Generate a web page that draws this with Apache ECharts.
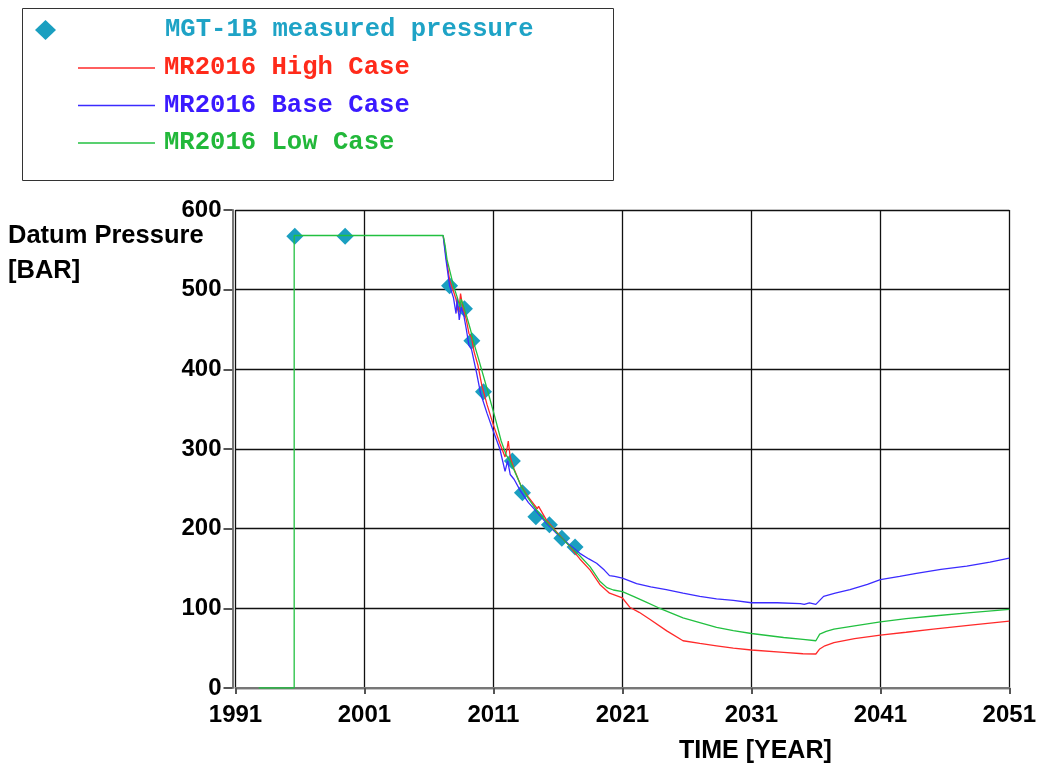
<!DOCTYPE html>
<html>
<head>
<meta charset="utf-8">
<script src="https://cdn.jsdelivr.net/npm/echarts@6/dist/echarts.min.js"></script>
<style>
html,body{margin:0;padding:0;background:#fff;}
#chart{width:1039px;height:769px;}
</style>
</head>
<body>
<div id="chart"></div>
<script>
// ---------- DATA ----------
const seriesNames = ['MGT-1B measured pressure', 'MR2016 High Case', 'MR2016 Base Case', 'MR2016 Low Case'];
const xTicks = [1991, 2001, 2011, 2021, 2031, 2041, 2051];
const yTicks = [0, 100, 200, 300, 400, 500, 600];

const measuredYears = [1995.6, 1999.5, 2007.6, 2008.75, 2009.33, 2010.23, 2012.47, 2013.25, 2014.29, 2015.34, 2016.3, 2017.33];
const measuredBar   = [567, 567, 505, 476, 436, 372, 285, 245, 215, 205, 188, 177];

// shared history (drawn with the low case, which lies on top in the reference)
const historyYears = [1992.8, 1995.55, 1995.55];
const historyBar   = [0, 0, 568];

const highYears = [2007.1, 2007.3, 2007.6, 2007.9, 2008.1, 2008.3, 2008.45, 2008.6, 2008.9, 2009.1, 2009.3, 2009.5, 2009.8, 2010.1, 2010.5, 2011.0, 2011.5, 2011.9, 2012.05, 2012.15, 2012.3, 2012.6, 2013.1, 2013.7, 2014.4, 2014.5, 2015.1, 2015.9, 2016.8, 2017.7, 2018.5, 2019.25, 2020.0, 2021.0, 2021.6, 2022.3, 2023.15, 2024.44, 2025.7, 2027.0, 2028.3, 2029.6, 2031.0, 2033.5, 2035.0, 2036.0, 2036.3, 2036.7, 2037.4, 2039.0, 2041.0, 2043.0, 2045.1, 2048.0, 2051.0];
const highBar   = [568, 545, 512, 498, 488, 470, 495, 480, 462, 445, 440, 422, 405, 380, 356, 330, 307, 290, 300, 310, 290, 275, 255, 240, 225, 228, 211, 196, 180, 162, 148, 130, 119, 113, 101, 95, 86, 71.7, 59.3, 56, 53, 50, 47.7, 44.8, 43, 42.7, 49, 53, 57, 62, 66.4, 70, 73.8, 79, 84];

const baseYears = [2007.1, 2007.3, 2007.6, 2007.9, 2008.1, 2008.2, 2008.35, 2008.5, 2008.7, 2008.9, 2009.1, 2009.3, 2009.5, 2009.7, 2010.0, 2010.5, 2011.0, 2011.5, 2011.9, 2012.1, 2012.3, 2012.6, 2013.07, 2013.7, 2014.36, 2015.1, 2015.9, 2016.8, 2017.7, 2018.4, 2019.0, 2019.6, 2020.0, 2020.4, 2021.0, 2022.1, 2023.2, 2024.4, 2025.7, 2027.0, 2028.3, 2029.6, 2031.0, 2033.0, 2034.8, 2035.1, 2035.5, 2036.0, 2036.3, 2036.6, 2037.5, 2038.65, 2040.0, 2041.0, 2042.5, 2043.8, 2045.7, 2047.7, 2049.5, 2051.0];
const baseBar   = [568, 540, 505, 490, 470, 490, 462, 478, 468, 450, 430, 425, 410, 395, 370, 345, 322, 300, 272, 285, 268, 262, 248, 233, 221, 207, 194, 181, 169, 162, 156.6, 148, 141, 140, 138, 131, 127, 123.5, 119, 115, 112, 110, 107, 107, 106, 105, 107, 105, 110, 115, 119, 123.5, 130, 136, 140, 144, 149, 153, 158, 163];

const lowYears = [2007.1, 2007.25, 2007.4, 2007.9, 2008.2, 2008.4, 2008.5, 2008.67, 2008.9, 2009.2, 2009.5, 2009.84, 2010.5, 2011.13, 2011.6, 2012.0, 2012.3, 2012.7, 2013.1, 2013.7, 2014.4, 2015.1, 2015.9, 2016.8, 2017.7, 2018.5, 2019.25, 2019.8, 2020.3, 2021.0, 2021.85, 2022.8, 2023.8, 2025.7, 2027.0, 2028.3, 2029.6, 2031.0, 2033.5, 2035.0, 2036.0, 2036.3, 2036.8, 2037.4, 2039.0, 2041.0, 2043.0, 2045.1, 2048.0, 2051.0];
const lowBar   = [568, 556, 538, 505, 490, 478, 488, 480, 468, 451, 432, 413.5, 376, 339, 310, 292, 285, 270, 255, 238, 222, 209, 195, 180, 166, 152, 134, 126, 123, 121, 115, 108, 100.7, 88, 82, 76, 72, 68.4, 63.4, 61, 59.3, 67.6, 71, 73.8, 78, 83, 87, 90.4, 94.5, 98.7];

// ---------- helpers ----------
function zip(xs, ys) { return xs.map((x, i) => [x, ys[i]]); }

const colors = { measured: '#1a9fc0', high: '#ff2a2a', base: '#3b2bff', low: '#22c040' };
const textColors = { measured: '#1ea3c6', high: '#ff2a1a', base: '#3a1aff', low: '#22b83a' };

const chart = echarts.init(document.getElementById('chart'), null, { renderer: 'canvas' });

const sansBold = 'Liberation Sans, Arial, sans-serif';
const axisFont = { fontFamily: sansBold, fontWeight: 'bold', fontSize: 24, color: '#000' };
const legendFont = { fontFamily: 'Liberation Mono, Courier New, monospace', fontWeight: 'bold', fontSize: 25.6 };

chart.setOption({
  animation: false,
  backgroundColor: '#fff',
  title: {
    text: 'Datum Pressure\n[BAR]',
    left: 8, top: 218, padding: 0,
    textStyle: { fontFamily: sansBold, fontWeight: 'bold', fontSize: 25.5, lineHeight: 35, color: '#000' }
  },
  graphic: [{
    type: 'rect', left: 22, top: 8, z: -1,
    shape: { width: 591, height: 172 },
    style: { fill: '#fff', stroke: '#333', lineWidth: 1 }
  }],
  legend: [{
    data: [{ name: seriesNames[0], icon: 'diamond', textStyle: { color: textColors.measured } }],
    left: 35, top: 17, padding: 0,
    itemWidth: 21, itemHeight: 20,
    textStyle: Object.assign({ padding: [0, 0, 0, 104] }, legendFont)
  }, {
    data: [
      { name: seriesNames[1], icon: 'rect', textStyle: { color: textColors.high } },
      { name: seriesNames[2], icon: 'rect', textStyle: { color: textColors.base } },
      { name: seriesNames[3], icon: 'rect', textStyle: { color: textColors.low } }
    ],
    orient: 'vertical', left: 78, top: 55, padding: 0,
    itemWidth: 77, itemHeight: 1.3, itemGap: 11.5,
    textStyle: Object.assign({ padding: [0, 0, 0, 4] }, legendFont)
  }],
  grid: { left: 235.5, right: 29.5, top: 210, bottom: 76.5, containLabel: false },
  xAxis: {
    type: 'value', min: xTicks[0], max: xTicks[xTicks.length - 1], interval: 10,
    offset: 4,
    axisLine: { show: true, lineStyle: { color: '#777', width: 2 } },
    axisTick: { show: true, length: 6, lineStyle: { color: '#555', width: 2 } },
    axisLabel: Object.assign({ margin: 11, formatter: v => String(v) }, axisFont),
    splitLine: { show: true, lineStyle: { color: '#111', width: 1.3 } },
    name: 'TIME [YEAR]', nameLocation: 'middle', nameGap: 47,
    nameTextStyle: { fontFamily: sansBold, fontWeight: 'bold', fontSize: 25, color: '#000', padding: [0, 0, 0, 266] }
  },
  yAxis: {
    type: 'value', min: yTicks[0], max: yTicks[yTicks.length - 1], interval: 100,
    offset: 3,
    axisLine: { show: true, lineStyle: { color: '#777', width: 2 } },
    axisTick: { show: true, length: 9, lineStyle: { color: '#555', width: 2 } },
    axisLabel: Object.assign({ margin: 11, formatter: v => String(v) }, axisFont),
    splitLine: { show: true, lineStyle: { color: '#111', width: 1.3 } }
  },
  series: [{
    name: seriesNames[0], type: 'scatter', symbol: 'diamond', symbolSize: 17,
    itemStyle: { color: colors.measured, opacity: 1 },
    data: zip(measuredYears, measuredBar)
  }, {
    name: seriesNames[1], type: 'line', symbol: 'none',
    lineStyle: { color: colors.high, width: 1.3 }, itemStyle: { color: colors.high },
    data: zip(highYears, highBar)
  }, {
    name: seriesNames[2], type: 'line', symbol: 'none',
    lineStyle: { color: colors.base, width: 1.3 }, itemStyle: { color: colors.base },
    data: zip(baseYears, baseBar)
  }, {
    name: seriesNames[3], type: 'line', symbol: 'none',
    lineStyle: { color: colors.low, width: 1.3 }, itemStyle: { color: colors.low },
    data: zip(historyYears.concat(lowYears), historyBar.concat(lowBar))
  }]
});
</script>
</body>
</html>
